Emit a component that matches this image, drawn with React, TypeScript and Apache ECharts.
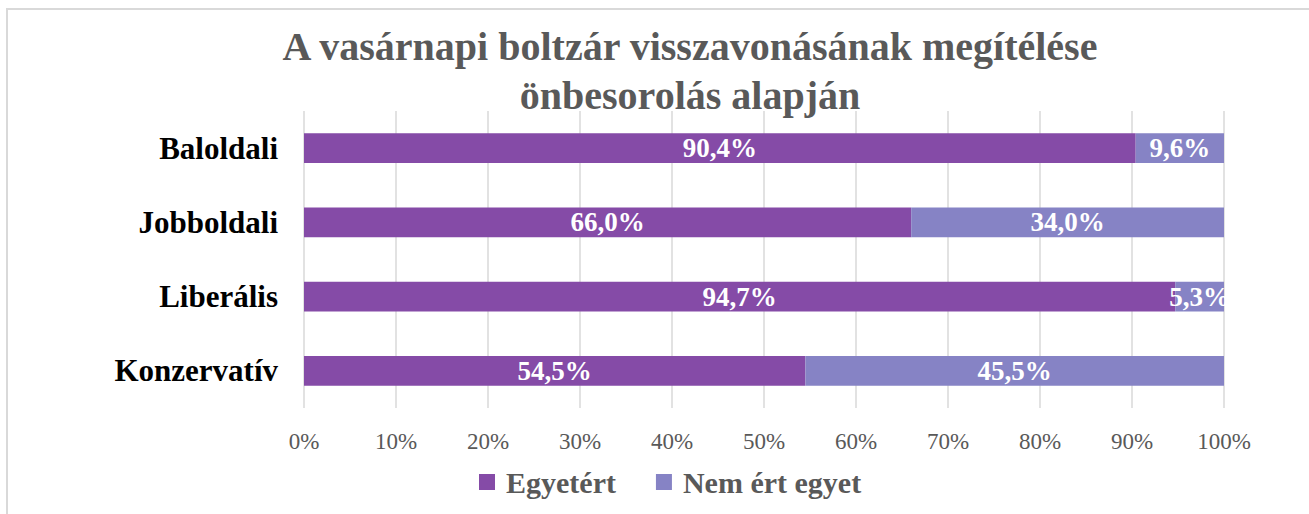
import React, { useEffect, useRef } from "react";
import * as echarts from "echarts";

const categories = ["Baloldali", "Jobboldali", "Liberális", "Konzervatív"];
const agree = [90.4, 66.0, 94.7, 54.5];
const disagree = [9.6, 34.0, 5.3, 45.5];
const seriesNames = ["Egyetért", "Nem ért egyet"];
const titleText = "A vasárnapi boltzár visszavonásának megítélése\nönbesorolás alapján";

const FONT = "'Liberation Serif', serif";

export default function App() {
  const ref = useRef<HTMLDivElement>(null);
  useEffect(() => {
    if (!ref.current) return;
    const chart = echarts.init(ref.current, null, { renderer: "svg" });
    const fmt = (p: any) => p.value.toFixed(1).replace(".", ",") + "%";
    const labelStyle = {
      show: true,
      position: "inside",
      color: "#ffffff",
      fontFamily: FONT,
      fontWeight: "bold",
      fontSize: 27,
      formatter: fmt,
    };
    chart.setOption({
      animation: false,
      backgroundColor: "#ffffff",
      graphic: [
        {
          type: "rect",
          shape: { x: 7, y: 9, width: 1330, height: 540 },
          style: { fill: "none", stroke: "#d9d9d9", lineWidth: 2 },
          silent: true,
        },
      ],
      title: {
        text: titleText,
        left: 685,
        textAlign: "center",
        top: 17,
        textStyle: {
          fontFamily: FONT,
          fontWeight: "bold",
          fontSize: 40,
          color: "#595959",
          lineHeight: 49,
        },
      },
      legend: {
        bottom: 12,
        left: 474,
        itemWidth: 16,
        itemHeight: 16,
        itemGap: 40,
        icon: "rect",
        textStyle: {
          fontFamily: FONT,
          fontWeight: "bold",
          fontSize: 30,
          color: "#595959",
          padding: [0, 0, 0, 6],
        },
        data: seriesNames,
      },
      grid: { left: 304, right: 85, top: 111, bottom: 106, containLabel: false },
      xAxis: {
        type: "value",
        min: 0,
        max: 100,
        interval: 10,
        axisLine: { show: false },
        axisTick: { show: false },
        splitLine: { lineStyle: { color: "#d9d9d9", width: 1.5 } },
        axisLabel: {
          formatter: "{value}%",
          fontFamily: FONT,
          fontSize: 23,
          color: "#595959",
          margin: 22,
        },
      },
      yAxis: {
        type: "category",
        data: categories,
        inverse: true,
        axisLine: { show: false },
        axisTick: { show: false },
        axisLabel: {
          fontFamily: FONT,
          fontWeight: "bold",
          fontSize: 31,
          color: "#000000",
          margin: 26,
        },
      },
      series: [
        {
          name: seriesNames[0],
          type: "bar",
          stack: "total",
          data: agree,
          barWidth: "40%",
          itemStyle: { color: "#854BA7" },
          label: labelStyle,
        },
        {
          name: seriesNames[1],
          type: "bar",
          stack: "total",
          data: disagree,
          barWidth: "40%",
          itemStyle: { color: "#8683C5" },
          label: labelStyle,
        },
      ],
    });
    return () => chart.dispose();
  }, []);
  return (
    <div
      ref={ref}
      style={{ position: "absolute", left: 0, top: 0, width: 1309, height: 514 }}
    />
  );
}
